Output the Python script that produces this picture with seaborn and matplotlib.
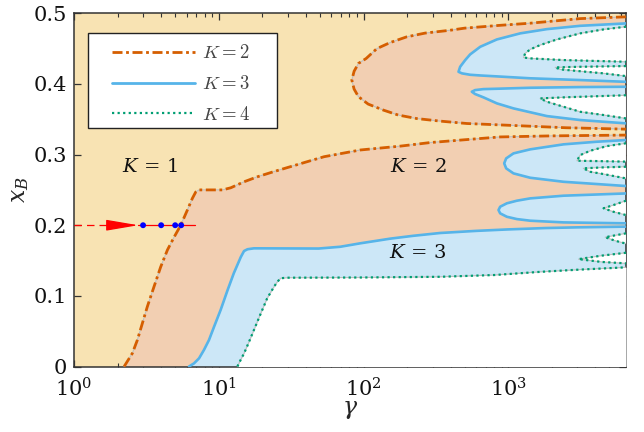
import matplotlib
matplotlib.use('Agg')
import matplotlib.pyplot as plt
from matplotlib.lines import Line2D
from matplotlib.patches import FancyArrowPatch, Rectangle
from matplotlib.ticker import LogLocator, NullLocator
import seaborn as sns

sns.set_theme(style='ticks')
plt.rcParams['font.family'] = ['DejaVu Serif']
plt.rcParams['mathtext.fontset'] = 'dejavuserif'

# ---------------------------------------------------------------
# data (gamma, x_B)
# ---------------------------------------------------------------
GAMMA_MAX = 6500

# K=2 boundary, lower branch
k2_gamma = [2.22, 2.53, 2.74, 2.965, 3.21, 3.57, 3.97, 4.42, 4.91, 5.46, 6.07, 6.57, 6.93, 7.31,
            10.6, 12.1, 15, 18.5, 24.1, 31.4, 40.9, 53.4, 95, 180, 288, 500, 880, 2000, 6500]
k2_xb = [0.0, 0.0187, 0.0375, 0.061, 0.0847, 0.113, 0.141, 0.165, 0.183, 0.2, 0.2215, 0.238, 0.247, 0.25,
         0.25, 0.253, 0.2616, 0.2686, 0.276, 0.283, 0.29, 0.297, 0.3065, 0.312, 0.317, 0.321, 0.325, 0.3265, 0.3276]

# K=2 closed tongue (upper branch -> nose -> lower branch)
k2_loop_gamma = [6500, 3140, 1417, 879, 500, 396, 266.6, 199, 152.8, 123.6, 104.2, 92.2, 86.1, 83,
                 86.1, 92.2, 107.6, 137, 173.4, 233, 338, 517, 879, 2500, 6500]
k2_loop_xb = [0.495, 0.4925, 0.486, 0.483, 0.479, 0.476, 0.472, 0.4667, 0.4586, 0.450, 0.436, 0.429, 0.418, 0.4055,
              0.3927, 0.382, 0.3715, 0.363, 0.356, 0.351, 0.3474, 0.344, 0.342, 0.338, 0.336]

# K=3 boundary, lower branch
k3_gamma = [6.23, 6.75, 7.31, 7.9, 8.56, 9.28, 10.3, 11.5, 12.7, 14.2, 14.95, 15.8, 17.5,
            49, 69, 95, 153, 220, 338, 600, 977, 1800, 3000, 6500]
k3_xb = [0.0, 0.0045, 0.0116, 0.0234, 0.0375, 0.0563, 0.08, 0.108, 0.132, 0.155, 0.1635, 0.166, 0.1673,
         0.167, 0.1695, 0.1744, 0.181, 0.185, 0.189, 0.192, 0.194, 0.196, 0.197, 0.198]

# K=3 tongues
f1_gamma = [6500, 2409, 1417, 1146, 977, 879, 856, 879, 977, 1146, 1417, 2409, 6500]
f1_xb = [0.245, 0.2418, 0.238, 0.2347, 0.231, 0.2262, 0.2215, 0.2168, 0.212, 0.2087, 0.2064, 0.204, 0.2027]
f2_gamma = [6500, 4090, 2409, 1417, 1086, 967, 937, 967, 1086, 1417, 2409, 4090, 6500]
f2_xb = [0.3206, 0.3182, 0.3145, 0.3074, 0.3017, 0.2946, 0.2876, 0.2805, 0.2734, 0.2672, 0.2615, 0.2583, 0.2555]
f3_gamma = [6500, 3140, 1849, 1209, 834, 640, 545, 504, 465, 453, 478, 545, 640, 834, 1417, 3140, 6500]
f3_xb = [0.4857, 0.4823, 0.4776, 0.4716, 0.463, 0.4526, 0.4418, 0.4338, 0.4243, 0.4172,
         0.415, 0.413, 0.412, 0.4107, 0.408, 0.4055, 0.403]
f4_gamma = [6500, 3140, 1417, 834, 674, 590, 560, 590, 674, 834, 1086, 1849, 3140, 6500]
f4_xb = [0.396, 0.3956, 0.3946, 0.3932, 0.3927, 0.3913, 0.389, 0.3857, 0.381, 0.3725, 0.3654, 0.3545, 0.3489, 0.3442]

# K=4 boundary, lower branch
k4_gamma = [13.45, 14.15, 14.96, 16.2, 17.5, 19.5, 21.6, 24.1, 25.4, 26.8, 29.8, 95, 338, 800, 1660, 3000, 6500]
k4_xb = [0.0, 0.0092, 0.0187, 0.0351, 0.0517, 0.075, 0.0965, 0.113, 0.12, 0.125, 0.1257,
         0.126, 0.127, 0.1295, 0.134, 0.137, 0.1404]

# K=4 tongues (white holes)
h1_gamma = [6500, 4435, 3055, 4435, 6500]
h1_xb = [0.161, 0.157, 0.152, 0.148, 0.146]
h2_gamma = [6500, 5480, 4675, 5480, 6500]
h2_xb = [0.1885, 0.1857, 0.183, 0.178, 0.174]
h3_gamma = [6500, 5335, 4550, 5335, 6500]
h3_xb = [0.2347, 0.2286, 0.224, 0.219, 0.2144]
h4_gamma = [6500, 4550, 3140, 2168, 1660, 1417, 1309, 1274, 1417, 2409, 6500]
h4_xb = [0.481, 0.4772, 0.4716, 0.463, 0.455, 0.4489, 0.4433, 0.4375, 0.4362, 0.4338, 0.4314]
h5_gamma = [6500, 3140, 2110, 2285, 3140, 4550, 6500]
h5_xb = [0.4253, 0.4243, 0.4234, 0.4206, 0.418, 0.415, 0.4111]
h6_gamma = [6500, 2409, 1660, 1849, 2409, 3140, 4550, 6500]
h6_xb = [0.384, 0.381, 0.3795, 0.3748, 0.3677, 0.3606, 0.356, 0.3512]
h7_gamma = [6500, 4800, 3680, 3140, 2980, 4090, 6500]
h7_xb = [0.316, 0.312, 0.3054, 0.2993, 0.2913, 0.2908, 0.29]
h8_gamma = [6500, 4550, 3300, 3680, 4550, 6500]
h8_xb = [0.2828, 0.2819, 0.2805, 0.2757, 0.2724, 0.2663]

# trajectory at x_B = 0.2
path_xb = 0.2
path_dash_gamma = [1, 1.87]
path_arrow_gamma = [1.87, 2.78]
path_solid_gamma = [2.78, 6.9]
dots_gamma = [3, 4, 5, 5.5]

# region labels
label_text = ['$K\\,=\\,1$', '$K\\,=\\,2$', '$K\\,=\\,3$']
label_gamma = [3.35, 239, 239]
label_xb = [0.283, 0.283, 0.161]

legend_labels = ['$K=2$', '$K=3$', '$K=4$']

# ---------------------------------------------------------------
ORANGE = '#D55E00'
BLUE = '#56B4E9'
GREEN = '#009E73'
K1_FILL = '#F8E3B3'
K2_FILL = '#F2CFB2'
K3_FILL = '#CCE7F7'
EDGE_GRAY = '#BEBEBE'
DASHDOT = (0, (3.6, 1.3, 1.0, 1.3))
DOTTED = (0, (1.0, 1.5))

fig = plt.figure(figsize=(6.44, 4.32), dpi=100)
ax = fig.add_axes([0.1149, 0.1516, 0.8571, 0.8176])
ax.set_xscale('log')
ax.set_facecolor(K1_FILL)

tongues = [(f1_gamma, f1_xb), (f2_gamma, f2_xb), (f3_gamma, f3_xb), (f4_gamma, f4_xb)]
holes = [(h1_gamma, h1_xb), (h2_gamma, h2_xb), (h3_gamma, h3_xb), (h4_gamma, h4_xb),
         (h5_gamma, h5_xb), (h6_gamma, h6_xb), (h7_gamma, h7_xb), (h8_gamma, h8_xb)]

# regions
ax.fill_between(k2_gamma, 0, k2_xb, color=K2_FILL, lw=0, zorder=1)
ax.fill(k2_loop_gamma, k2_loop_xb, color=K2_FILL, lw=0, zorder=1)
ax.fill_between(k3_gamma, 0, k3_xb, color=K3_FILL, lw=0, zorder=2)
for g, xb in tongues:
    ax.fill(g, xb, color=K3_FILL, lw=0, zorder=2)
ax.fill_between(k4_gamma, 0, k4_xb, color='white', lw=0, zorder=3)
for g, xb in holes:
    ax.fill(g, xb, color='white', lw=0, zorder=3)


def boundary(g, xb, color, ls, lw):
    ax.plot(g, xb, color=EDGE_GRAY, linewidth=0.8, zorder=4)
    sns.lineplot(x=g, y=xb, sort=False, estimator=None, color=color,
                 linestyle=ls, linewidth=lw, ax=ax, zorder=5)


boundary(k2_gamma, k2_xb, ORANGE, DASHDOT, 2.0)
boundary(k2_loop_gamma, k2_loop_xb, ORANGE, DASHDOT, 2.0)
boundary(k3_gamma, k3_xb, BLUE, '-', 1.9)
for g, xb in tongues:
    boundary(g, xb, BLUE, '-', 1.9)
boundary(k4_gamma, k4_xb, GREEN, DOTTED, 1.6)
for g, xb in holes:
    boundary(g, xb, GREEN, DOTTED, 1.6)

# path with arrow and dots
ax.plot(path_dash_gamma, [path_xb] * 2, color='red', linewidth=0.9,
        dashes=(6, 4), zorder=6)
ax.plot(path_solid_gamma, [path_xb] * 2, color='red', linewidth=0.9, zorder=6)
ax.add_patch(FancyArrowPatch((path_arrow_gamma[0], path_xb), (path_arrow_gamma[1], path_xb),
                             arrowstyle='-|>,head_length=1.0,head_width=0.17',
                             mutation_scale=20, color='red', linewidth=0.9,
                             shrinkA=0, shrinkB=0, zorder=6))
sns.scatterplot(x=dots_gamma, y=[path_xb] * len(dots_gamma), color='#0000FF',
                s=18, edgecolor='none', ax=ax, zorder=7)

for t, g, xb in zip(label_text, label_gamma, label_xb):
    ax.text(g, xb, t, ha='center', va='center', fontsize=14, color='#111111', zorder=8)

# axes
ax.set_xlim(1, GAMMA_MAX)
ax.set_ylim(0, 0.5)
ax.set_xticks([1, 10, 100, 1000])
ax.set_xticklabels(['$10^{0}$', '$10^{1}$', '$10^{2}$', '$10^{3}$'])
ax.xaxis.set_minor_locator(LogLocator(base=10, subs=range(2, 10)))
ax.set_yticks([0, 0.1, 0.2, 0.3, 0.4, 0.5])
ax.set_yticklabels(['0', '0.1', '0.2', '0.3', '0.4', '0.5'])
ax.yaxis.set_minor_locator(NullLocator())
ax.tick_params(which='both', direction='in', top=True, right=True,
               color='#333333', labelsize=15, labelcolor='#111111')
ax.tick_params(which='major', length=5, width=0.9, pad=5)
ax.tick_params(axis='x', which='major', pad=8)
ax.tick_params(which='minor', length=3, width=0.8)
for s in ax.spines.values():
    s.set_color('#333333')
    s.set_linewidth(1.1)
ax.set_xlabel('$\\gamma$', fontsize=17, labelpad=-2)
ax.set_ylabel('$x_B$', fontsize=17, labelpad=2)

# legend: frame drawn as its own box, entries placed inside it
ax.add_patch(Rectangle((0.0259, 0.6744), 0.3413, 0.269, transform=ax.transAxes,
                       facecolor='white', edgecolor='#222222', linewidth=1.0, zorder=9))
handles = [Line2D([], [], color=ORANGE, linewidth=2.0, linestyle=DASHDOT),
           Line2D([], [], color=BLUE, linewidth=2.0),
           Line2D([], [], color=GREEN, linewidth=1.6, linestyle=DOTTED)]
leg = ax.legend(handles, legend_labels, loc='upper left', bbox_to_anchor=(0.068, 0.912),
                borderaxespad=0, borderpad=0, frameon=False, handlelength=4.45,
                handletextpad=0.4, labelspacing=0.68, labelcolor='#444444',
                prop={'size': 13.5, 'math_fontfamily': 'cm'})
leg.set_zorder(10)

fig.savefig('out.png', dpi=100)
